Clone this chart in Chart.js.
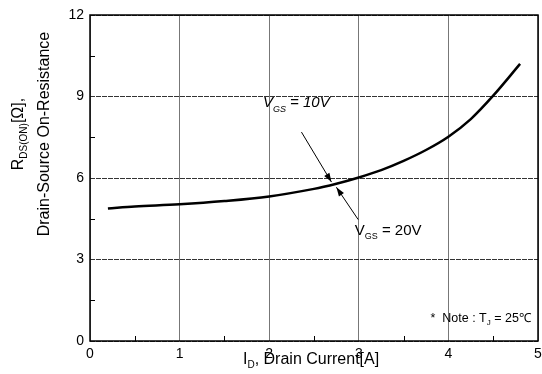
<!DOCTYPE html>
<html>
<head>
<meta charset="utf-8">
<script src="https://cdn.jsdelivr.net/npm/chart.js@4.4.1/dist/chart.umd.min.js"></script>
<style>
  html, body { margin: 0; padding: 0; background: #fff; }
  #wrap { width: 542px; height: 374px; }
</style>
</head>
<body>
<div id="wrap"><canvas id="chartCanvas" width="542" height="374"></canvas></div>
<script>
// values
const drainCurrent = [0.2, 0.5, 1, 1.5, 2, 2.5, 2.75, 3, 3.25, 3.5, 3.75, 4, 4.25, 4.5, 4.8];
const rdsOn = [4.88, 4.95, 5.03, 5.15, 5.32, 5.6, 5.79, 6.02, 6.29, 6.63, 7.03, 7.52, 8.17, 9.03, 10.2];
const xTicks = [0, 1, 2, 3, 4, 5];
const yTicks = [0, 3, 6, 9, 12];
const xMinor = [0.5, 1.5, 2.5, 3.5, 4.5];
const yMinor = [1.5, 4.5, 7.5, 10.5];

const FONT = '"Liberation Sans", Arial, sans-serif';

// draw text made of pieces, some of them subscripts
function drawRich(ctx, parts, x, y, size, italic) {
    let cx = x;
    const style = italic ? 'italic ' : '';
    parts.forEach(p => {
        const s = p.sub ? Math.round(size * 0.62) : size;
        ctx.font = style + s + 'px ' + FONT;
        ctx.fillText(p.t, cx, p.sub ? y + size * 0.28 : y);
        cx += ctx.measureText(p.t).width;
    });
}

function richWidth(ctx, parts, size, italic) {
    let w = 0;
    const style = italic ? 'italic ' : '';
    parts.forEach(p => {
        const s = p.sub ? Math.round(size * 0.62) : size;
        ctx.font = style + s + 'px ' + FONT;
        w += ctx.measureText(p.t).width;
    });
    return w;
}

function arrow(ctx, x1, y1, x2, y2) {
    ctx.beginPath();
    ctx.moveTo(x1, y1);
    ctx.lineTo(x2, y2);
    ctx.stroke();
    const a = Math.atan2(y2 - y1, x2 - x1);
    const len = 9, wid = 3;
    ctx.beginPath();
    ctx.moveTo(x2, y2);
    ctx.lineTo(x2 - len * Math.cos(a) + wid * Math.sin(a), y2 - len * Math.sin(a) - wid * Math.cos(a));
    ctx.lineTo(x2 - len * Math.cos(a) - wid * Math.sin(a), y2 - len * Math.sin(a) + wid * Math.cos(a));
    ctx.closePath();
    ctx.fill();
}

const decor = {
    id: 'decor',
    afterDraw(chart) {
        const ctx = chart.ctx;
        const xs = chart.scales.x, ys = chart.scales.y;
        const a = chart.chartArea;
        ctx.save();
        ctx.strokeStyle = '#000';
        ctx.fillStyle = '#000';

        // minor ticks, pointing inward
        ctx.lineWidth = 1;
        xMinor.forEach(v => {
            const px = Math.round(xs.getPixelForValue(v)) + 0.5;
            ctx.beginPath(); ctx.moveTo(px, a.bottom); ctx.lineTo(px, a.bottom - 5); ctx.stroke();
        });
        yMinor.forEach(v => {
            const py = Math.round(ys.getPixelForValue(v)) + 0.5;
            ctx.beginPath(); ctx.moveTo(a.left, py); ctx.lineTo(a.left + 5, py); ctx.stroke();
        });

        // frame
        ctx.lineWidth = 1.5;
        ctx.strokeRect(a.left, a.top, a.right - a.left, a.bottom - a.top);

        // annotations
        ctx.textBaseline = 'alphabetic';
        ctx.textAlign = 'left';
        drawRich(ctx, [{t: 'V'}, {t: 'GS', sub: true}, {t: ' = 10V'}],
            xs.getPixelForValue(1.93), ys.getPixelForValue(8.6), 15, true);
        drawRich(ctx, [{t: 'V'}, {t: 'GS', sub: true}, {t: ' = 20V'}],
            xs.getPixelForValue(2.955), ys.getPixelForValue(3.9), 15, false);
        drawRich(ctx, [{t: '*  Note : T'}, {t: 'J', sub: true}, {t: ' = 25\u2103'}],
            xs.getPixelForValue(3.8), ys.getPixelForValue(0.7), 12.5, false);

        ctx.lineWidth = 1;
        arrow(ctx, xs.getPixelForValue(2.36), ys.getPixelForValue(7.69),
                   xs.getPixelForValue(2.695), ys.getPixelForValue(5.85));
        arrow(ctx, xs.getPixelForValue(2.993), ys.getPixelForValue(4.47),
                   xs.getPixelForValue(2.75), ys.getPixelForValue(5.66));

        // x axis title
        drawRich(ctx, [{t: 'I'}, {t: 'D', sub: true}, {t: ', Drain Current[A]'}], 243, 364, 16, false);

        // y axis title, two rotated lines
        ctx.save();
        ctx.translate(0, 134);
        ctx.rotate(-Math.PI / 2);
        const l1 = [{t: 'R'}, {t: 'DS(ON)', sub: true}, {t: '[\u03A9],'}];
        const w1 = richWidth(ctx, l1, 16, false);
        drawRich(ctx, l1, -w1 / 2, 23, 16, false);
        const l2 = [{t: 'Drain-Source On-Resistance'}];
        const w2 = richWidth(ctx, l2, 16, false);
        drawRich(ctx, l2, -w2 / 2, 49, 16, false);
        ctx.restore();

        ctx.restore();
    }
};

const ctx = document.getElementById('chartCanvas').getContext('2d');
new Chart(ctx, {
    type: 'line',
    data: {
        datasets: [{
            data: drainCurrent.map((x, i) => ({x: x, y: rdsOn[i]})),
            borderColor: '#000',
            borderWidth: 2.5,
            pointRadius: 0,
            fill: false,
            tension: 0.35
        }]
    },
    options: {
        responsive: false,
        animation: false,
        layout: { padding: { top: 15, left: 0, right: 0, bottom: 0 } },
        plugins: { legend: { display: false }, tooltip: { enabled: false } },
        scales: {
            x: {
                type: 'linear',
                min: 0, max: 5,
                afterBuildTicks: s => { s.ticks = xTicks.map(v => ({value: v})); },
                afterFit: s => { s.height = 33; s.paddingRight = 4; },
                grid: { color: '#777', lineWidth: 1, drawTicks: false },
                border: { display: false },
                ticks: { color: '#000', padding: 5, font: { family: FONT, size: 14 } }
            },
            y: {
                type: 'linear',
                min: 0, max: 12,
                afterBuildTicks: s => { s.ticks = yTicks.map(v => ({value: v})); },
                afterFit: s => { s.width = 90; },
                grid: { color: '#333', lineWidth: 1, drawTicks: false },
                border: { display: false, dash: [5, 1] },
                ticks: { color: '#000', padding: 6, font: { family: FONT, size: 14 } }
            }
        }
    },
    plugins: [decor]
});
</script>
</body>
</html>
